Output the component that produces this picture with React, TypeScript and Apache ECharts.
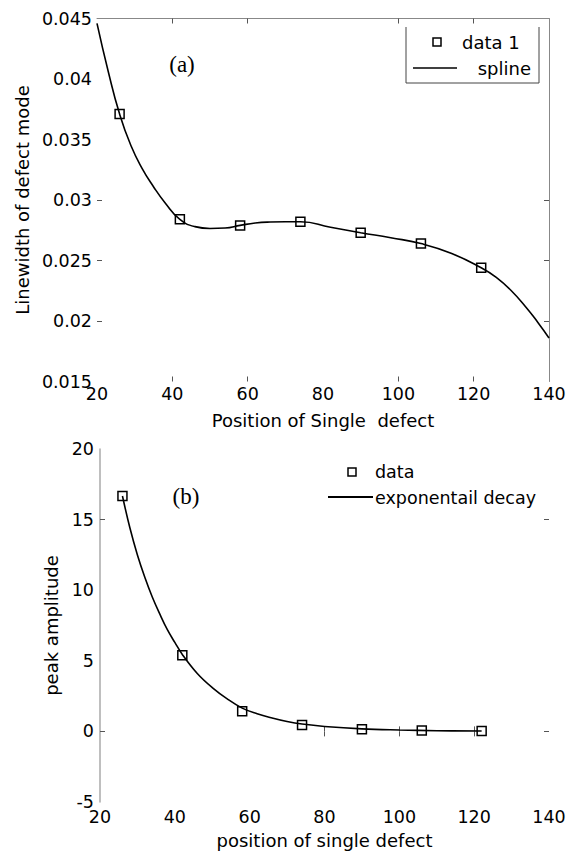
import React, { useEffect, useRef } from "react";
import * as echarts from "echarts";

// Panel (a): linewidth of defect mode
const posA = [26, 42, 58, 74, 90, 106, 122];
const linewidthA = [0.0371, 0.0284, 0.0279, 0.0282, 0.0273, 0.0264, 0.0244];
const splineX = [20, 23, 26, 29, 32, 35, 38, 42, 46, 50, 54, 58, 62, 66, 70, 74, 82, 90, 98, 106, 114, 122, 126, 130, 134, 137, 140];
const splineY = [0.0446, 0.0406, 0.0371, 0.0345, 0.0326, 0.0311, 0.0298, 0.0284, 0.0278, 0.02765, 0.02768, 0.0279, 0.0281, 0.02818, 0.0282, 0.0282, 0.02775, 0.0273, 0.02688, 0.0264, 0.0256, 0.0244, 0.0236, 0.0225, 0.0211, 0.0199, 0.0186];

// Panel (b): peak amplitude
const posB = [26, 42, 58, 74, 90, 106, 122];
const amplitudeB = [16.67, 5.4, 1.42, 0.45, 0.15, 0.07, 0.03];
const decayX = [26, 28, 30, 32, 34, 36, 38, 40, 42, 46, 50, 54, 58, 62, 66, 70, 74, 80, 90, 100, 110, 122];
const decayY = [16.67, 14.4, 12.5, 10.9, 9.5, 8.3, 7.2, 6.3, 5.45, 4.1, 3.1, 2.3, 1.65, 1.25, 0.95, 0.7, 0.52, 0.35, 0.18, 0.1, 0.05, 0.03];

// Ticks visible in the reference
const ticksAx = [40, 60, 100, 120];
const ticksAy = [0.03, 0.025, 0.02];
const ticksBx = [80, 100, 120];
const ticksBy = [15, 0];

const FONT = "DejaVu Sans";
const SERIF = "Liberation Serif";

export default function App() {
  const ref = useRef<HTMLDivElement>(null);
  useEffect(() => {
    document.body.style.margin = "0";
    const chart = echarts.init(ref.current!, null, { renderer: "svg" });
    const label = (margin: number, fmt?: (v: number) => string) => ({
      show: true,
      margin,
      fontSize: 17.5,
      fontFamily: FONT,
      color: "#000",
      formatter: fmt,
    });
    const tick = (vals: number[]) => ({
      show: true,
      inside: true,
      length: 5,
      customValues: vals,
      lineStyle: { color: "#555", width: 1 },
    });
    const nameStyle = { fontSize: 18, fontFamily: FONT, color: "#000" };
    const fmtA = (v: number) => String(+v.toFixed(3));
    const fmtB = (v: number) => String(+v.toFixed(0));

    chart.setOption({
      animation: false,
      backgroundColor: "#fff",
      grid: [
        { left: 97, top: 18.5, width: 452, height: 363 },
        { left: 100, top: 449, width: 449, height: 353 },
      ],
      xAxis: [
        {
          gridIndex: 0, type: "value", position: "bottom", min: 20, max: 140, interval: 20,
          axisLine: { show: false }, axisTick: tick(ticksAx), axisLabel: label(3),
          splitLine: { show: false },
          name: "Position of Single  defect", nameLocation: "middle", nameGap: 30, nameTextStyle: nameStyle,
        },
        {
          gridIndex: 0, type: "value", position: "top", min: 20, max: 140, interval: 20,
          axisLine: { show: true, lineStyle: { color: "#888", width: 1 } },
          axisTick: tick(ticksAx), axisLabel: { show: false }, splitLine: { show: false },
        },
        {
          gridIndex: 1, type: "value", position: "bottom", min: 20, max: 140, interval: 20,
          axisLine: { show: false }, axisTick: tick(ticksBx), axisLabel: label(6),
          splitLine: { show: false },
          name: "position of single defect", nameLocation: "middle", nameGap: 29, nameTextStyle: nameStyle,
        },
        {
          gridIndex: 1, type: "value", position: "top", min: 20, max: 140, interval: 20,
          axisLine: { show: false }, axisTick: tick(ticksBx), axisLabel: { show: false },
          splitLine: { show: false },
        },
      ],
      yAxis: [
        {
          gridIndex: 0, type: "value", position: "left", min: 0.015, max: 0.045, interval: 0.005,
          axisLine: { show: false }, axisTick: tick(ticksAy), axisLabel: label(5, fmtA),
          splitLine: { show: false },
          name: "Linewidth of defect mode", nameLocation: "middle", nameGap: 64, nameTextStyle: nameStyle,
        },
        {
          gridIndex: 0, type: "value", position: "right", min: 0.015, max: 0.045, interval: 0.005,
          axisLine: { show: true, lineStyle: { color: "#888", width: 1 } },
          axisTick: tick(ticksAy), axisLabel: { show: false }, splitLine: { show: false },
        },
        {
          gridIndex: 1, type: "value", position: "left", min: -5, max: 20, interval: 5,
          axisLine: { show: true, lineStyle: { color: "#aaa", width: 1.5 } },
          axisTick: tick(ticksBy), axisLabel: label(6, fmtB),
          splitLine: { show: false },
          name: "peak amplitude", nameLocation: "middle", nameGap: 35, nameTextStyle: nameStyle,
        },
        {
          gridIndex: 1, type: "value", position: "right", min: -5, max: 20, interval: 5,
          axisLine: { show: false }, axisTick: tick(ticksBy), axisLabel: { show: false },
          splitLine: { show: false },
        },
      ],
      series: [
        {
          name: "spline", type: "line", xAxisIndex: 0, yAxisIndex: 0,
          data: splineX.map((x, i) => [x, splineY[i]]),
          smooth: 0.5, showSymbol: false, lineStyle: { color: "#000", width: 1.6 },
        },
        {
          name: "data 1", type: "scatter", xAxisIndex: 0, yAxisIndex: 0,
          data: posA.map((x, i) => [x, linewidthA[i]]),
          symbol: "rect", symbolSize: 9,
          itemStyle: { color: "rgba(0,0,0,0)", borderColor: "#000", borderWidth: 1.5, opacity: 1 },
        },
        {
          name: "exponentail decay", type: "line", xAxisIndex: 2, yAxisIndex: 2,
          data: decayX.map((x, i) => [x, decayY[i]]),
          smooth: 0.4, showSymbol: false, lineStyle: { color: "#000", width: 1.6 },
        },
        {
          name: "data", type: "scatter", xAxisIndex: 2, yAxisIndex: 2,
          data: posB.map((x, i) => [x, amplitudeB[i]]),
          symbol: "rect", symbolSize: 9,
          itemStyle: { color: "rgba(0,0,0,0)", borderColor: "#000", borderWidth: 1.5, opacity: 1 },
        },
      ],
      graphic: [
        // panel labels
        { type: "text", x: 182, y: 64, style: { text: "(a)", fontFamily: SERIF, fontSize: 23, fill: "#000", textAlign: "center", textVerticalAlign: "middle" } },
        { type: "text", x: 186, y: 496, style: { text: "(b)", fontFamily: SERIF, fontSize: 23, fill: "#000", textAlign: "center", textVerticalAlign: "middle" } },
        // legend (a)
        { type: "rect", shape: { x: 406, y: 27, width: 133, height: 56 }, style: { fill: "#fff", stroke: null } },
        { type: "polyline", shape: { points: [[406, 27], [406, 83], [539, 83], [539, 27]] }, style: { fill: null, stroke: "#444", lineWidth: 1 } },
        { type: "rect", shape: { x: 433, y: 38, width: 8, height: 8 }, style: { fill: "none", stroke: "#000", lineWidth: 1.5 } },
        { type: "text", x: 462, y: 42, style: { text: "data 1", fontFamily: FONT, fontSize: 18, fill: "#000", textAlign: "left", textVerticalAlign: "middle" } },
        { type: "line", shape: { x1: 413, y1: 68, x2: 457, y2: 68 }, style: { stroke: "#000", lineWidth: 1.5 } },
        { type: "text", x: 531, y: 68, style: { text: "spline", fontFamily: FONT, fontSize: 18, fill: "#000", textAlign: "right", textVerticalAlign: "middle" } },
        // legend (b)
        { type: "rect", shape: { x: 348, y: 468, width: 8, height: 8 }, style: { fill: "none", stroke: "#000", lineWidth: 1.5 } },
        { type: "text", x: 375, y: 472, style: { text: "data", fontFamily: FONT, fontSize: 17.5, fill: "#000", textAlign: "left", textVerticalAlign: "middle" } },
        { type: "line", shape: { x1: 328, y1: 497, x2: 373, y2: 497 }, style: { stroke: "#000", lineWidth: 1.8 } },
        { type: "text", x: 375, y: 498, style: { text: "exponentail decay", fontFamily: FONT, fontSize: 17.5, fill: "#000", textAlign: "left", textVerticalAlign: "middle" } },
      ],
    });
    return () => chart.dispose();
  }, []);
  return <div ref={ref} style={{ width: 570, height: 851 }} />;
}
